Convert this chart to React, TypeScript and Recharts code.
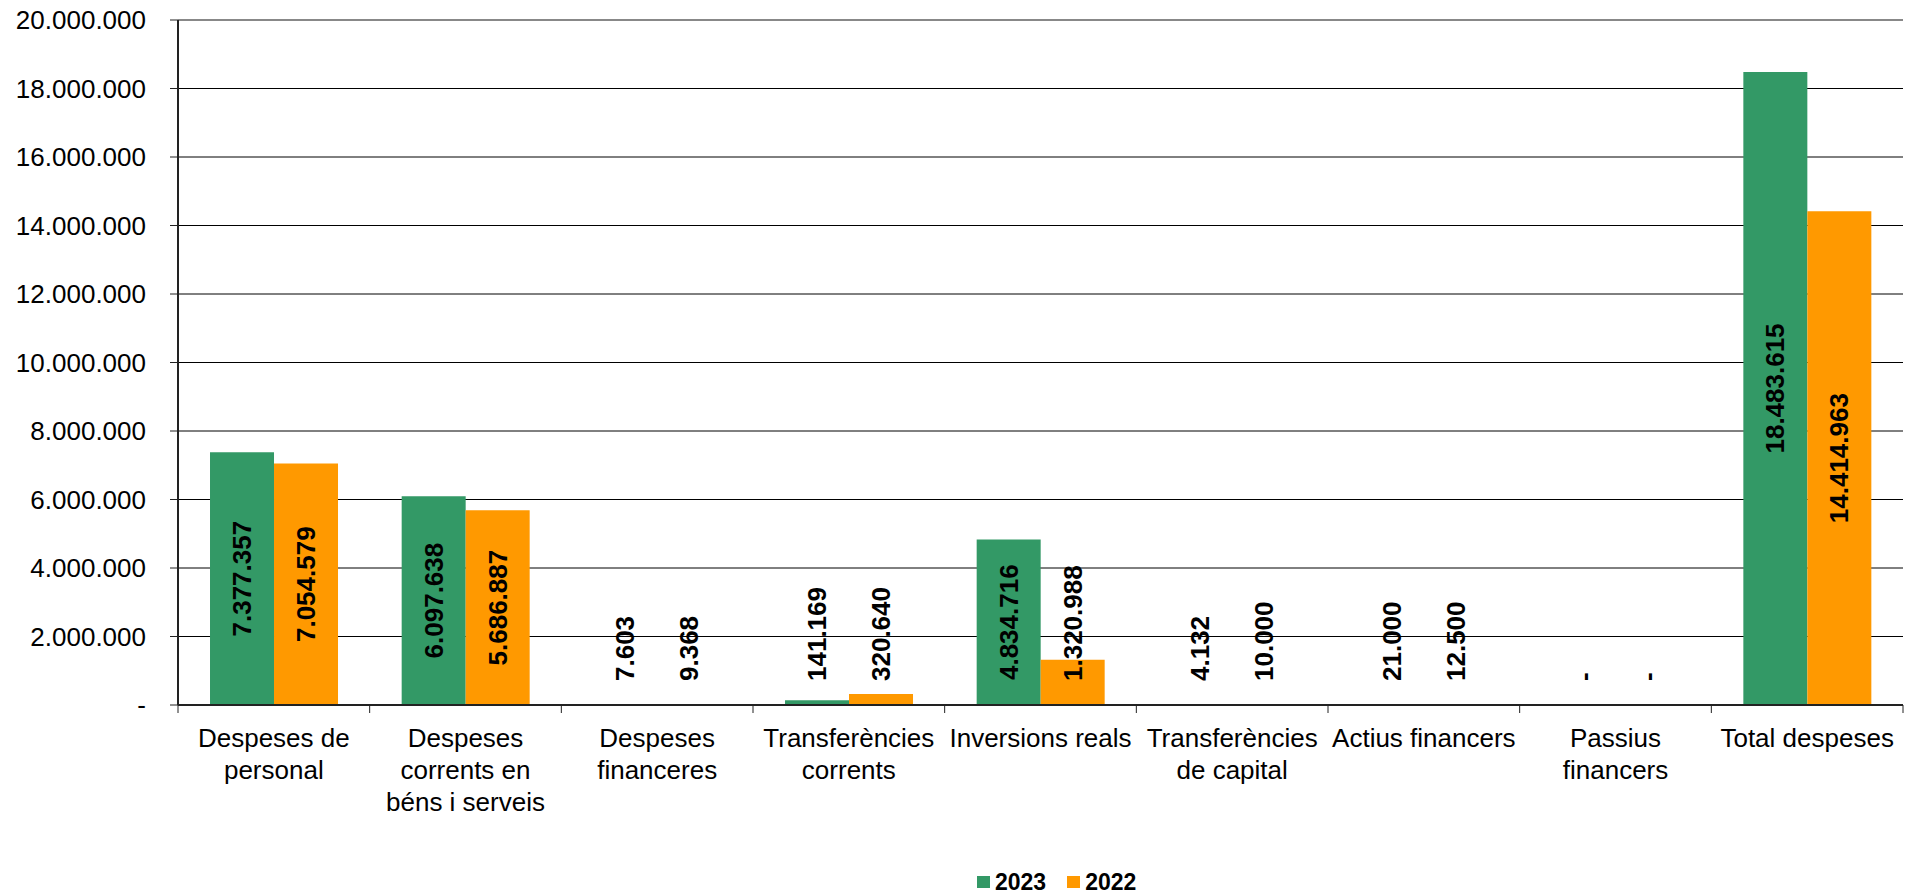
import React from 'react';
import { BarChart, Bar, XAxis, YAxis, CartesianGrid, Legend, LabelList, ReferenceLine } from 'recharts';

const categories = [
  'Despeses de\npersonal',
  'Despeses\ncorrents en\nbéns i serveis',
  'Despeses\nfinanceres',
  'Transferències\ncorrents',
  'Inversions reals',
  'Transferències\nde capital',
  'Actius financers',
  'Passius\nfinancers',
  'Total despeses',
];
const values2023 = [7377357, 6097638, 7603, 141169, 4834716, 4132, 21000, 0, 18483615];
const values2022 = [7054579, 5686887, 9368, 320640, 1320988, 10000, 12500, 0, 14414963];
const yTicks = [0, 2000000, 4000000, 6000000, 8000000, 10000000, 12000000, 14000000, 16000000, 18000000, 20000000];
const seriesNames = ['2023', '2022'];

const CHART_W = 1920;
const CHART_H = 895;
const Y_AXIS_W = 178;
const MARGIN_RIGHT = 17;
const BAND = (CHART_W - Y_AXIS_W - MARGIN_RIGHT) / categories.length;
const FONT = "'Liberation Sans', Arial, Helvetica, sans-serif";
const GREEN = '#339966';
const ORANGE = '#FF9900';

const data = categories.map((name, i) => ({
  name,
  y2023: values2023[i],
  y2022: values2022[i],
}));

// 7377357 -> "7.377.357", 0 -> "-"
const fmt = (n: number) => (n === 0 ? '-' : String(n).replace(/\B(?=(\d{3})+(?!\d))/g, '.'));

const ctx = typeof document !== 'undefined' ? document.createElement('canvas').getContext('2d') : null;
function textWidth(s: string, font: string) {
  if (!ctx) return s.length * 14;
  ctx.font = font;
  return ctx.measureText(s).width;
}

function CategoryTick(props: any) {
  const { x, y, payload, index } = props;
  const axisY = y - 8;
  const lines = String(payload.value).split('\n');
  return (
    <g>
      <line x1={x - BAND / 2} x2={x - BAND / 2} y1={axisY} y2={axisY + 8} stroke="#222" />
      {index === categories.length - 1 && (
        <line x1={x + BAND / 2} x2={x + BAND / 2} y1={axisY} y2={axisY + 8} stroke="#222" />
      )}
      <text x={x} y={axisY + 42} textAnchor="middle" fontSize={26} fill="#000" fontFamily={FONT}>
        {lines.map((l, i) => (
          <tspan key={i} x={x} dy={i === 0 ? 0 : 32}>{l}</tspan>
        ))}
      </text>
    </g>
  );
}

function BarValueLabel(props: any) {
  const vb = props.viewBox ?? props;
  const x = Number(vb.x);
  const y = Number(vb.y);
  const w = Number(vb.width);
  const h = Number(vb.height);
  const text = fmt(Number(props.value));
  const len = textWidth(text, `bold 26px ${FONT}`);
  const cx = x + w / 2;
  const base = y + h;
  let cy = y + h / 2;
  // excel keeps the label inside the plot, above the axis
  const limit = base - 24;
  if (cy + len / 2 > limit) cy = limit - len / 2;
  return (
    <text
      x={cx}
      y={cy}
      transform={`rotate(-90 ${cx} ${cy})`}
      textAnchor="middle"
      dominantBaseline="central"
      fontSize={26}
      fontWeight="bold"
      fontFamily={FONT}
      fill="#000"
    >
      {text}
    </text>
  );
}

function LegendBox() {
  const colors = [GREEN, ORANGE];
  return (
    <div style={{ display: 'flex', alignItems: 'center', fontFamily: FONT, fontWeight: 'bold', fontSize: 23, lineHeight: '26px' }}>
      {seriesNames.map((s, i) => (
        <div key={s} style={{ display: 'flex', alignItems: 'center', marginRight: 21 }}>
          <span style={{ width: 13, height: 12, background: colors[i], display: 'inline-block', marginRight: 5 }} />
          <span>{s}</span>
        </div>
      ))}
    </div>
  );
}

// zero bars still need their "-" label, so give them a 1px body hidden under the axis
const zeroPoint = (v: any) => (Number(v) === 0 ? 1 : 0);

export default function App() {
  return (
    <div style={{ width: CHART_W, height: CHART_H, background: '#fff', margin: '-8px 0 0 -8px' }}>
      <BarChart
        width={CHART_W}
        height={CHART_H}
        data={data}
        margin={{ top: 20, right: MARGIN_RIGHT, left: 0, bottom: 0 }}
        barCategoryGap="16.7%"
        barGap={0}
        style={{ fontFamily: FONT }}
      >
        <CartesianGrid vertical={false} stroke="#000" strokeWidth={1} />
        <XAxis
          dataKey="name"
          height={190}
          interval={0}
          tick={<CategoryTick />}
          tickLine={false}
          tickSize={8}
          tickMargin={0}
          axisLine={{ stroke: '#222', strokeWidth: 2 }}
        />
        <YAxis
          width={Y_AXIS_W}
          domain={[0, 20000000]}
          ticks={yTicks}
          tickFormatter={fmt}
          tick={{ fontSize: 26, fill: '#000', fontFamily: FONT }}
          tickSize={8}
          tickMargin={24}
          tickLine={{ stroke: '#222' }}
          axisLine={{ stroke: '#222', strokeWidth: 2 }}
          interval={0}
        />
        <YAxis
          yAxisId="right"
          orientation="right"
          width={0}
          tick={false}
          tickLine={false}
          axisLine={{ stroke: '#888', strokeWidth: 2 }}
        />
        <ReferenceLine y={20000000} stroke="#888" strokeWidth={2} />
        <Legend
          layout="horizontal"
          verticalAlign="middle"
          align="center"
          wrapperStyle={{ top: 869, left: 977, width: 'auto' }}
          content={() => <LegendBox />}
        />
        <Bar dataKey="y2023" name={seriesNames[0]} fill={GREEN} minPointSize={zeroPoint} isAnimationActive={false}>
          <LabelList dataKey="y2023" content={BarValueLabel} />
        </Bar>
        <Bar dataKey="y2022" name={seriesNames[1]} fill={ORANGE} minPointSize={zeroPoint} isAnimationActive={false}>
          <LabelList dataKey="y2022" content={BarValueLabel} />
        </Bar>
      </BarChart>
    </div>
  );
}
